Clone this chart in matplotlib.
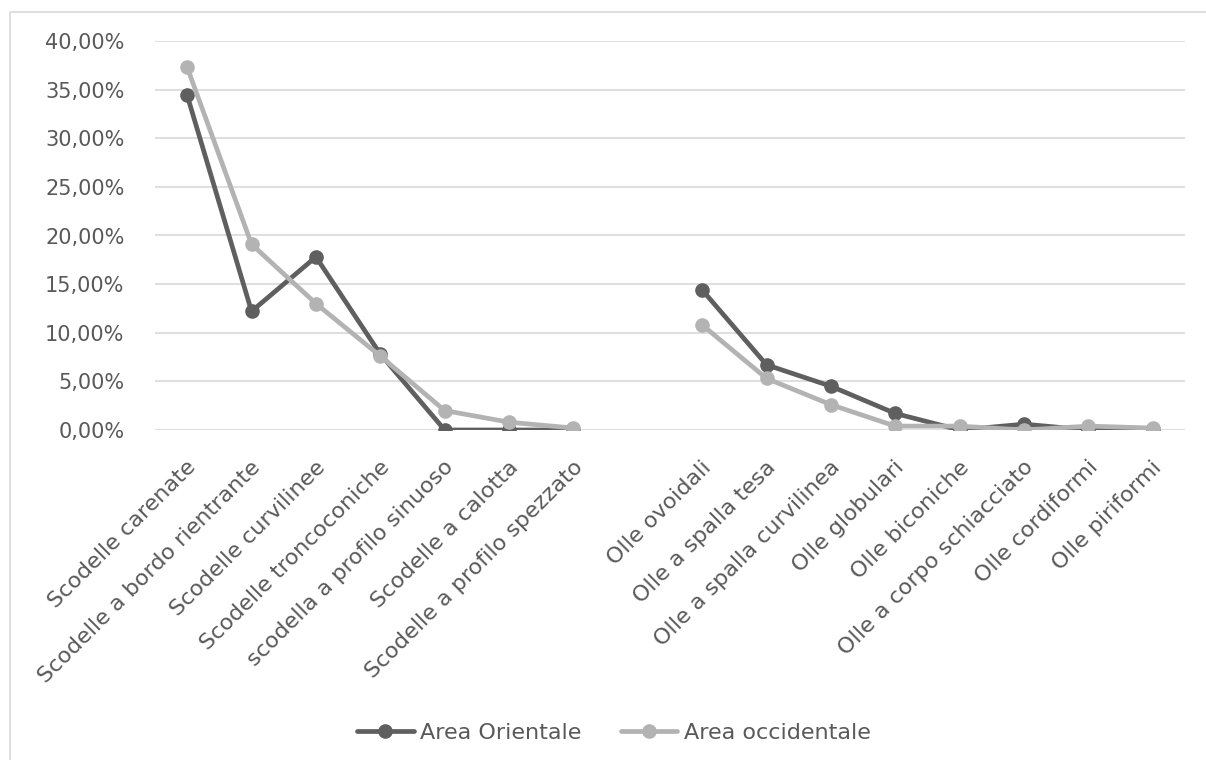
import numpy as np
import matplotlib.pyplot as plt
import matplotlib.transforms as mtransforms
from matplotlib.lines import Line2D
from matplotlib.ticker import FuncFormatter, MultipleLocator

categories = [
    "Scodelle carenate", "Scodelle a bordo rientrante", "Scodelle curvilinee",
    "Scodelle troncoconiche", "scodella a profilo sinuoso", "Scodelle a calotta",
    "Scodelle a profilo spezzato", "",
    "Olle ovoidali", "Olle a spalla tesa", "Olle a spalla curvilinea",
    "Olle globulari", "Olle biconiche", "Olle a corpo schiacciato",
    "Olle cordiformi", "Olle piriformi",
]
orientale = [34.4, 12.2, 17.8, 7.8, 0.0, 0.0, 0.0, np.nan,
             14.4, 6.7, 4.5, 1.7, 0.0, 0.6, 0.0, 0.0]
occidentale = [37.3, 19.1, 13.0, 7.6, 2.0, 0.8, 0.2, np.nan,
               10.8, 5.3, 2.6, 0.4, 0.4, 0.0, 0.4, 0.2]
series_names = ["Area Orientale", "Area occidentale"]

plt.rcParams['font.family'] = ['DejaVu Sans']
text_color = "#595959"
dark = "#5f5f5f"
light = "#b3b3b3"

W, H = 1206, 760
fig = plt.figure(figsize=(W / 100, H / 100), dpi=100)
ax = fig.add_axes([155 / W, 1 - 430 / H, (1185 - 155) / W, (430 - 41) / H])

# chart frame: top and left edges, running off the canvas
frame_y = 1 - 12 / H
frame_x = 9.5 / W
fig.add_artist(Line2D([frame_x, 1.2], [frame_y, frame_y], transform=fig.transFigure,
                      color="#d9d9d9", lw=1.2, solid_capstyle='butt'))
fig.add_artist(Line2D([frame_x, frame_x], [-0.2, frame_y], transform=fig.transFigure,
                      color="#d9d9d9", lw=1.2, solid_capstyle='butt'))

x = np.arange(len(categories))
ax.plot(x, orientale, color=dark, lw=3.4, marker='o', ms=9.5,
        label=series_names[0], zorder=3, solid_capstyle='round')
ax.plot(x, occidentale, color=light, lw=3.4, marker='o', ms=9.5,
        label=series_names[1], zorder=4, solid_capstyle='round')

ax.set_xlim(-0.5, len(categories) - 0.5)
ax.set_ylim(0, 40)
ax.yaxis.set_major_locator(MultipleLocator(5))
ax.yaxis.set_major_formatter(FuncFormatter(lambda v, p: f"{v:.2f}%".replace('.', ',')))
ax.grid(axis='y', color="#d9d9d9", lw=1.2, zorder=0)
ax.set_axisbelow(True)
for s in ax.spines.values():
    s.set_visible(False)
ax.tick_params(axis='y', length=0, colors=text_color, labelsize=15, pad=22)
ax.tick_params(axis='x', length=0, colors=text_color, labelsize=16, pad=0)
ax.set_xticks(x)
ax.set_xticklabels(categories, rotation=45, ha='right', va='center',
                   rotation_mode='anchor', color=text_color)
shift = mtransforms.ScaledTranslation(6 / 100, -34 / 100, fig.dpi_scale_trans)
for lab in ax.get_xticklabels():
    lab.set_transform(lab.get_transform() + shift)
for lab in ax.get_yticklabels():
    lab.set_color(text_color)

leg = fig.legend(loc='center', bbox_to_anchor=(614 / W, 1 - 733 / H), ncol=2,
                 frameon=False, fontsize=16, handlelength=2.55,
                 handletextpad=0.3, columnspacing=1.75, labelcolor=text_color)

fig.savefig("out.png", dpi=100, facecolor="white")
